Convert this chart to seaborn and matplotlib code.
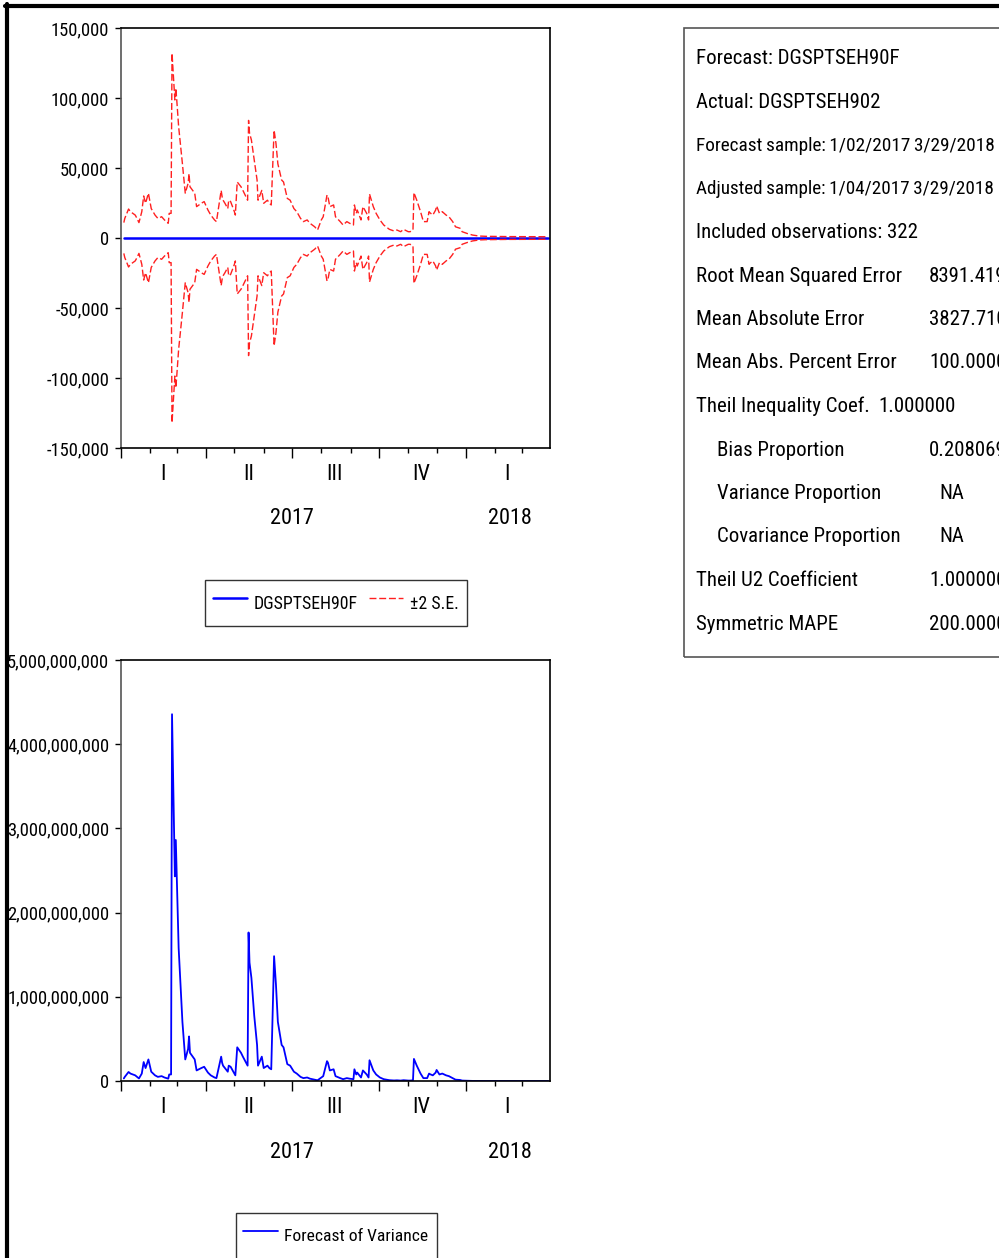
import numpy as np
import pandas as pd
import matplotlib
matplotlib.use('Agg')
import matplotlib.pyplot as plt
import matplotlib.dates as mdates
from matplotlib import font_manager as fm
from matplotlib.lines import Line2D
from matplotlib.patches import Rectangle
from matplotlib.ticker import FuncFormatter, MultipleLocator, NullFormatter
import seaborn as sns

# --- data ------------------------------------------------------------------
# upper +2 S.E. band of the forecast (thousands); forecast itself is 0
obs_dates = [
    '2017-01-04', '2017-01-05', '2017-01-09', '2017-01-11', '2017-01-16', '2017-01-17',
    '2017-01-20', '2017-01-23', '2017-01-25', '2017-01-27', '2017-01-30', '2017-02-02',
    '2017-02-06', '2017-02-09', '2017-02-13', '2017-02-16', '2017-02-20', '2017-02-21',
    '2017-02-23', '2017-02-24', '2017-02-27', '2017-02-28', '2017-03-01', '2017-03-03',
    '2017-03-07', '2017-03-10', '2017-03-13', '2017-03-14', '2017-03-15', '2017-03-20',
    '2017-03-22', '2017-03-27', '2017-03-30', '2017-04-03', '2017-04-06', '2017-04-10',
    '2017-04-12', '2017-04-17', '2017-04-18', '2017-04-19', '2017-04-21', '2017-04-24',
    '2017-04-25', '2017-04-27', '2017-05-01', '2017-05-02', '2017-05-04', '2017-05-08',
    '2017-05-10', '2017-05-15', '2017-05-16', '2017-05-17', '2017-05-19', '2017-05-22',
    '2017-05-25', '2017-05-26', '2017-05-30', '2017-06-01', '2017-06-05', '2017-06-07',
    '2017-06-09', '2017-06-12', '2017-06-14', '2017-06-16', '2017-06-20', '2017-06-22',
    '2017-06-26', '2017-06-29', '2017-07-03', '2017-07-06', '2017-07-10', '2017-07-13',
    '2017-07-17', '2017-07-20', '2017-07-25', '2017-07-28', '2017-08-01', '2017-08-03',
    '2017-08-07', '2017-08-08', '2017-08-10', '2017-08-14', '2017-08-16', '2017-08-21',
    '2017-08-24', '2017-08-28', '2017-08-31', '2017-09-04', '2017-09-05', '2017-09-07',
    '2017-09-08', '2017-09-12', '2017-09-14', '2017-09-18', '2017-09-20', '2017-09-21',
    '2017-09-25', '2017-09-28', '2017-10-02', '2017-10-06', '2017-10-12', '2017-10-17',
    '2017-10-20', '2017-10-24', '2017-10-27', '2017-11-01', '2017-11-03', '2017-11-06',
    '2017-11-07', '2017-11-10', '2017-11-14', '2017-11-17', '2017-11-21', '2017-11-23',
    '2017-11-24', '2017-11-27', '2017-11-30', '2017-12-01', '2017-12-04', '2017-12-07',
    '2017-12-11', '2017-12-14', '2017-12-18', '2017-12-21', '2017-12-26', '2017-12-28',
    '2018-01-02', '2018-01-08', '2018-01-15', '2018-01-22', '2018-02-15', '2018-03-29',
]
se_band_k = [
    11.0, 14.0, 20.7, 18.8, 16.4, 15.2,
    11.0, 18.8, 30.0, 24.8, 32.0, 21.0,
    16.4, 14.0, 15.2, 12.9, 10.5, 17.6,
    17.6, 132.0, 98.6, 107.0, 98.6, 79.5,
    53.0, 32.0, 39.0, 46.0, 36.6, 32.0,
    22.4, 24.8, 26.0, 20.0, 16.4, 12.9,
    11.7, 34.0, 29.5, 27.0, 24.8, 21.0,
    27.0, 26.0, 18.8, 16.4, 40.0, 36.6,
    34.0, 27.0, 84.0, 75.0, 70.0, 55.7,
    41.4, 27.0, 34.0, 24.8, 27.0, 24.8,
    23.6, 77.0, 67.6, 53.0, 41.4, 40.0,
    28.3, 27.0, 21.0, 18.8, 14.0, 11.7,
    12.9, 10.5, 8.0, 5.7, 12.9, 15.2,
    30.7, 29.5, 22.4, 23.6, 15.2, 11.7,
    9.3, 11.7, 10.5, 9.3, 23.6, 17.6,
    20.0, 12.9, 22.4, 17.6, 12.9, 31.4,
    22.4, 17.6, 12.9, 9.3, 6.2, 5.0,
    5.7, 4.5, 6.2, 4.5, 4.5, 5.7,
    32.4, 27.0, 18.8, 11.7, 11.7, 18.8,
    18.0, 16.4, 20.0, 22.9, 17.6, 18.8,
    16.4, 15.2, 11.7, 8.0, 6.9, 4.5,
    3.3, 2.1, 1.4, 1.2, 1.0, 0.9,
]

quarter_labels = ['I', 'II', 'III', 'IV', 'I']
quarter_mids = ['2017-02-14', '2017-05-16', '2017-08-15', '2017-11-15', '2018-02-14']
year_labels = ['2017', '2018']
year_mids = ['2017-07-01', '2018-02-17']

# EViews packs the two sample lines tightly, hence the thin spaces
stat_labels = ['Forecast: DGSPTSEH90F', 'Actual: DGSPTSEH902',
               'Forecast\u2009sample:\u20091/02/2017\u20093/29/2018',
               'Adjusted\u2009sample:\u20091/04/2017\u20093/29/2018',
               'Included observations: 322', 'Root Mean Squared Error',
               'Mean Absolute Error', 'Mean Abs. Percent Error',
               'Theil Inequality Coef.', 'Bias Proportion', 'Variance Proportion',
               'Covariance Proportion', 'Theil U2 Coefficient', 'Symmetric MAPE']
stat_values = ['', '', '', '', '', '8391.419', '3827.710', '100.0000', '1.000000',
               '0.208069', 'NA', 'NA', '1.000000', '200.0000']
stat_indent = [False] * 9 + [True, True, True, False, False]

df = pd.DataFrame({'date': pd.to_datetime(obs_dates),
                   'upper': np.array(se_band_k) * 1000.0})
df['lower'] = -df['upper']
df['forecast'] = 0.0
df['variance'] = (df['upper'] / 2.0) ** 2


def pick_narrow_font():
    """EViews draws with a narrow Arial; look for any condensed sans installed."""
    fonts = fm.fontManager.ttflist
    names = {f.name for f in fonts}
    for p in ['Liberation Sans Narrow', 'Arial Narrow', 'Roboto Condensed',
              'Noto Sans Condensed', 'Open Sans Condensed', 'DejaVu Sans Condensed',
              'Noto Sans SemiCondensed', 'Open Sans SemiCondensed']:
        if p in names:
            return p, 'normal'
    for f in fonts:
        if str(f.stretch) in ('condensed', 'semi-condensed', 'extra-condensed') \
                and f.style == 'normal' and 'Mono' not in f.name and 'Serif' not in f.name:
            return f.name, f.stretch
    return None, 'normal'


# --- styling -----------------------------------------------------------------
sns.set_theme(style='white', rc={'axes.edgecolor': 'black', 'text.color': 'black',
                                 'xtick.color': 'black', 'ytick.color': 'black',
                                 'axes.linewidth': 1.2})
narrow, stretch = pick_narrow_font()
if narrow:
    plt.rcParams['font.family'] = [narrow, 'Liberation Sans', 'DejaVu Sans']
    plt.rcParams['font.stretch'] = stretch
    fs = 1.0
else:
    plt.rcParams['font.family'] = ['Liberation Sans', 'DejaVu Sans']
    fs = 0.84

W, H = 999, 1258
fig = plt.figure(figsize=(W / 100, H / 100), dpi=100)
fig.patch.set_facecolor('white')


def px_axes(left, top, right, bottom):
    return fig.add_axes([left / W, 1 - bottom / H, (right - left) / W, (bottom - top) / H])


def date_axis(ax):
    ax.set_xlim(pd.Timestamp('2017-01-01'), pd.Timestamp('2018-03-31'))
    ax.xaxis.set_major_locator(mdates.MonthLocator(bymonth=[1, 4, 7, 10]))
    ax.xaxis.set_minor_locator(mdates.MonthLocator(bymonth=[2, 3, 5, 6, 8, 9, 11, 12]))
    ax.xaxis.set_major_formatter(NullFormatter())
    ax.xaxis.set_minor_formatter(NullFormatter())
    ax.tick_params(axis='x', which='major', bottom=True, length=7.5, width=1.0, direction='out')
    ax.tick_params(axis='x', which='minor', bottom=True, length=3.8, width=1.0, direction='out')
    ax.tick_params(axis='y', left=True, length=4.5, width=1.0, direction='out', pad=4,
                   labelsize=13.3 * fs)
    ax.set_xlabel('')
    ax.set_ylabel('')
    ax.spines['left'].set_color('#555555')
    tr = ax.get_xaxis_transform()
    for lab, d in zip(quarter_labels, quarter_mids):
        ax.text(pd.Timestamp(d), -26 / 420, lab, transform=tr, ha='center', va='center',
                fontsize=16 * fs)
    for lab, d in zip(year_labels, year_mids):
        ax.text(pd.Timestamp(d), -71 / 420, lab, transform=tr, ha='center', va='center',
                fontsize=16 * fs)


comma = FuncFormatter(lambda v, p: f'{v:,.0f}')

# --- top panel: forecast with +/- 2 S.E. --------------------------------------
ax1 = px_axes(121, 28, 550, 448)
sns.lineplot(data=df, x='date', y='forecast', color='#0000ff', lw=1.8, ax=ax1,
             label='DGSPTSEH90F')
sns.lineplot(data=df, x='date', y='upper', color='#ff2020', lw=1.0,
             linestyle=(0, (5, 2)), ax=ax1, label='\u00b12 S.E.')
sns.lineplot(data=df, x='date', y='lower', color='#ff2020', lw=1.0,
             linestyle=(0, (5, 2)), ax=ax1)
ax1.set_ylim(-150000, 150000)
ax1.yaxis.set_major_locator(MultipleLocator(50000))
ax1.yaxis.set_major_formatter(comma)
date_axis(ax1)
leg1 = ax1.legend(loc='center', bbox_to_anchor=(336 / W, 1 - 603 / H),
                  bbox_transform=fig.transFigure, ncol=2, frameon=True, fancybox=False,
                  edgecolor='black', fontsize=12.8 * fs, handlelength=1.9, handletextpad=0.4,
                  columnspacing=0.65, borderpad=0.45, handleheight=2.25)
leg1.get_frame().set_linewidth(1.0)

# --- bottom panel: forecast variance -----------------------------------------
ax2 = px_axes(121, 660, 550, 1081)
sns.lineplot(data=df, x='date', y='variance', color='#0000ff', lw=1.3, ax=ax2,
             label='Forecast of Variance')
ax2.set_ylim(0, 5e9)
ax2.yaxis.set_major_locator(MultipleLocator(1e9))
ax2.yaxis.set_major_formatter(comma)
date_axis(ax2)
leg2 = ax2.legend(loc='center', bbox_to_anchor=(336 / W, 1 - 1236 / H),
                  bbox_transform=fig.transFigure, frameon=True, fancybox=False,
                  edgecolor='black', fontsize=12.6 * fs, handlelength=1.95, handletextpad=0.4,
                  borderpad=0.45, handleheight=2.25)
leg2.get_frame().set_linewidth(1.0)

# --- statistics box ------------------------------------------------------------
fig.add_artist(Rectangle((684 / W, 1 - 657 / H), (1020 - 684) / W, (657 - 28) / H,
                         transform=fig.transFigure, fill=False, edgecolor='#555555', lw=1.2))
renderer = fig.canvas.get_renderer()
stat_fs = 15.0 * fs
for i, (lab, val, ind) in enumerate(zip(stat_labels, stat_values, stat_indent)):
    yc = 57 + 43.5 * i
    y = 1 - (yc + 7) / H
    x0 = 717 if ind else 696
    t = fig.text(x0 / W, y, lab, ha='left', va='baseline', fontsize=stat_fs)
    # the sample lines end just inside the right edge in the original
    wpx = t.get_window_extent(renderer).width
    if wpx > 299:
        t.set_fontsize(stat_fs * 299 / wpx)
    if val:
        if lab.startswith('Theil Inequality'):
            vx = 878
        elif val == 'NA':
            vx = 939
        else:
            vx = 929
        fig.text(vx / W, y, val, ha='left', va='baseline', fontsize=stat_fs)

# thick frame of the pasted graph (top and left edges)
fig.add_artist(Line2D([5 / W, 1.02], [1 - 6 / H, 1 - 6 / H], transform=fig.transFigure,
                      color='black', lw=3.0, zorder=10))
fig.add_artist(Line2D([7 / W, 7 / W], [-0.02, 1 - 4 / H], transform=fig.transFigure,
                      color='black', lw=3.0, zorder=10))

fig.savefig('out.png', dpi=100)
